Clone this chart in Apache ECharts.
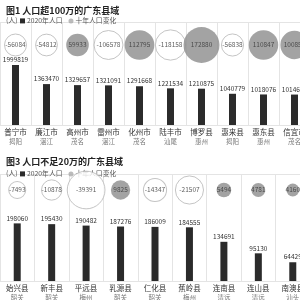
<!DOCTYPE html>
<html><head><meta charset="utf-8">
<script src="https://cdn.jsdelivr.net/npm/echarts@6/dist/echarts.min.js"></script>
<style>html,body{margin:0;padding:0;background:#fff}#c{width:300px;height:300px}</style>
</head><body><div id="c"></div>
<script>
const topNames = ['普宁市','廉江市','高州市','雷州市','化州市','陆丰市','博罗县','惠来县','惠东县','信宜市'];
const topCities = ['揭阳','湛江','茂名','湛江','茂名','汕尾','惠州','揭阳','惠州','茂名'];
const topPop = [1999819,1363470,1329657,1321091,1291668,1221534,1210875,1040779,1018076,1014612];
const topChange = [-56084,-54812,59933,-106578,112795,-118158,172880,-56838,110847,100850];

const botNames = ['始兴县','新丰县','平远县','乳源县','仁化县','蕉岭县','连南县','连山县','南澳县'];
const botCities = ['韶关','韶关','梅州','韶关','韶关','梅州','清远','清远','汕头'];
const botPop = [198060,195430,190482,187276,186009,184555,134691,95130,64429];
const botChange = [-7493,-10878,-39391,9825,-14347,-21507,5494,4781,4160];

const FONT = '"Noto Sans CJK SC", "Noto Sans", sans-serif';
const GRID_LINE = '#e4e4e4';
const BAR = '#2b2b2b';
const POS = '#8c8c8c';

function xAxisFor(gi, names, cities) {
  return {
    type: 'category', gridIndex: gi, data: names,
    axisLine: { show: true, lineStyle: { color: GRID_LINE } },
    axisTick: { show: false },
    splitLine: { show: true, lineStyle: { color: GRID_LINE, width: 1 } },
    axisLabel: {
      interval: 0, margin: 3,
      formatter: (v, i) => '{n|' + v + '}\n{p|' + cities[i] + '}',
      rich: {
        n: { fontSize: 7.5, color: '#333', fontFamily: FONT, lineHeight: 9 },
        p: { fontSize: 6.5, color: '#777', fontFamily: FONT, lineHeight: 9 }
      }
    }
  };
}
function barY(gi, max) {
  return { type: 'value', gridIndex: gi, min: 0, max: max, show: false, splitLine: { show: false } };
}
function bubY(gi) {
  return { type: 'value', gridIndex: gi, min: 0, max: 1, interval: 1,
    axisLine: { show: false }, axisLabel: { show: false }, axisTick: { show: false },
    splitLine: { show: true, lineStyle: { color: GRID_LINE } } };
}
function barSeries(xi, yi, vals) {
  return {
    name: '2020年人口', type: 'bar', xAxisIndex: xi, yAxisIndex: yi, data: vals,
    barWidth: 7, itemStyle: { color: BAR },
    label: { show: true, position: 'top', distance: 2, fontSize: 6.5, color: '#333', fontFamily: FONT },
    z: 3
  };
}
function bubSeries(xi, yi, changes, yPos, k, c) {
  return {
    name: '十年人口变化', type: 'scatter', xAxisIndex: xi, yAxisIndex: yi,
    data: changes.map((v, i) => ({
      value: [i, yPos, v],
      symbolSize: k * Math.sqrt(Math.abs(v)) + c,
      itemStyle: v < 0 ? { color: '#fff', borderColor: '#b5b5b5', borderWidth: 1 } : { color: POS }
    })),
    itemStyle: { color: POS },
    label: { show: true, position: 'inside', formatter: p => p.value[2], fontSize: 6.5, color: '#333', fontFamily: FONT },
    z: 4
  };
}

// grid geometry
const g0 = { top: 22, base: 125 };
const g1 = { top: 174, base: 281 };
const topMax = (g0.base - g0.top) / 30 * 1000000;      // 30 px per million
const botMax = (g1.base - g1.top) / 0.2909 * 1000;     // 0.29 px per thousand
const topBubY = 1 - (45 - g0.top) / (g0.base - g0.top);
const botBubY = 1 - (190 - g1.top) / (g1.base - g1.top);

const chart = echarts.init(document.getElementById('c'), null, { renderer: 'canvas' });
chart.setOption({
  animation: false,
  textStyle: { fontFamily: FONT },
  title: [
    { text: '图1 人口超100万的广东县域', left: 1, top: 1, textStyle: { fontSize: 9, fontWeight: 'bold', color: '#222', fontFamily: FONT } },
    { text: '图3 人口不足20万的广东县域', left: 1, top: 152, textStyle: { fontSize: 9, fontWeight: 'bold', color: '#222', fontFamily: FONT } },
    { text: '(人)', left: 1, top: 12, textStyle: { fontSize: 7, fontWeight: 'normal', color: '#555', fontFamily: FONT } },
    { text: '(人)', left: 1, top: 165, textStyle: { fontSize: 7, fontWeight: 'normal', color: '#555', fontFamily: FONT } }
  ],
  legend: [
    { top: 12.5, left: 15, itemWidth: 5, itemHeight: 5, itemGap: 6,
      textStyle: { fontSize: 6.8, color: '#555', fontFamily: FONT, padding: [0, 0, 0, -3] },
      data: [{ name: '2020年人口', icon: 'rect', itemStyle: { color: BAR } }, { name: '十年人口变化', icon: 'circle', itemStyle: { color: '#aaa' } }] },
    { top: 165.5, left: 15, itemWidth: 5, itemHeight: 5, itemGap: 6,
      textStyle: { fontSize: 6.8, color: '#555', fontFamily: FONT, padding: [0, 0, 0, -3] },
      data: [{ name: '2020年人口', icon: 'rect', itemStyle: { color: BAR } }, { name: '十年人口变化', icon: 'circle', itemStyle: { color: '#aaa' } }] }
  ],
  grid: [
    { left: 0, width: 310, top: g0.top, height: g0.base - g0.top, outerBoundsMode: 'none', containLabel: false },
    { left: 0, width: 310, top: g1.top, height: g1.base - g1.top, outerBoundsMode: 'none', containLabel: false }
  ],
  xAxis: [xAxisFor(0, topNames, topCities), xAxisFor(1, botNames, botCities)],
  yAxis: [barY(0, topMax), bubY(0), barY(1, botMax), bubY(1)],
  series: [
    barSeries(0, 0, topPop),
    bubSeries(0, 1, topChange, topBubY, 0.078, 3.5),
    barSeries(1, 2, botPop),
    bubSeries(1, 3, botChange, botBubY, 0.185, 1)
  ]
});
</script></body></html>
